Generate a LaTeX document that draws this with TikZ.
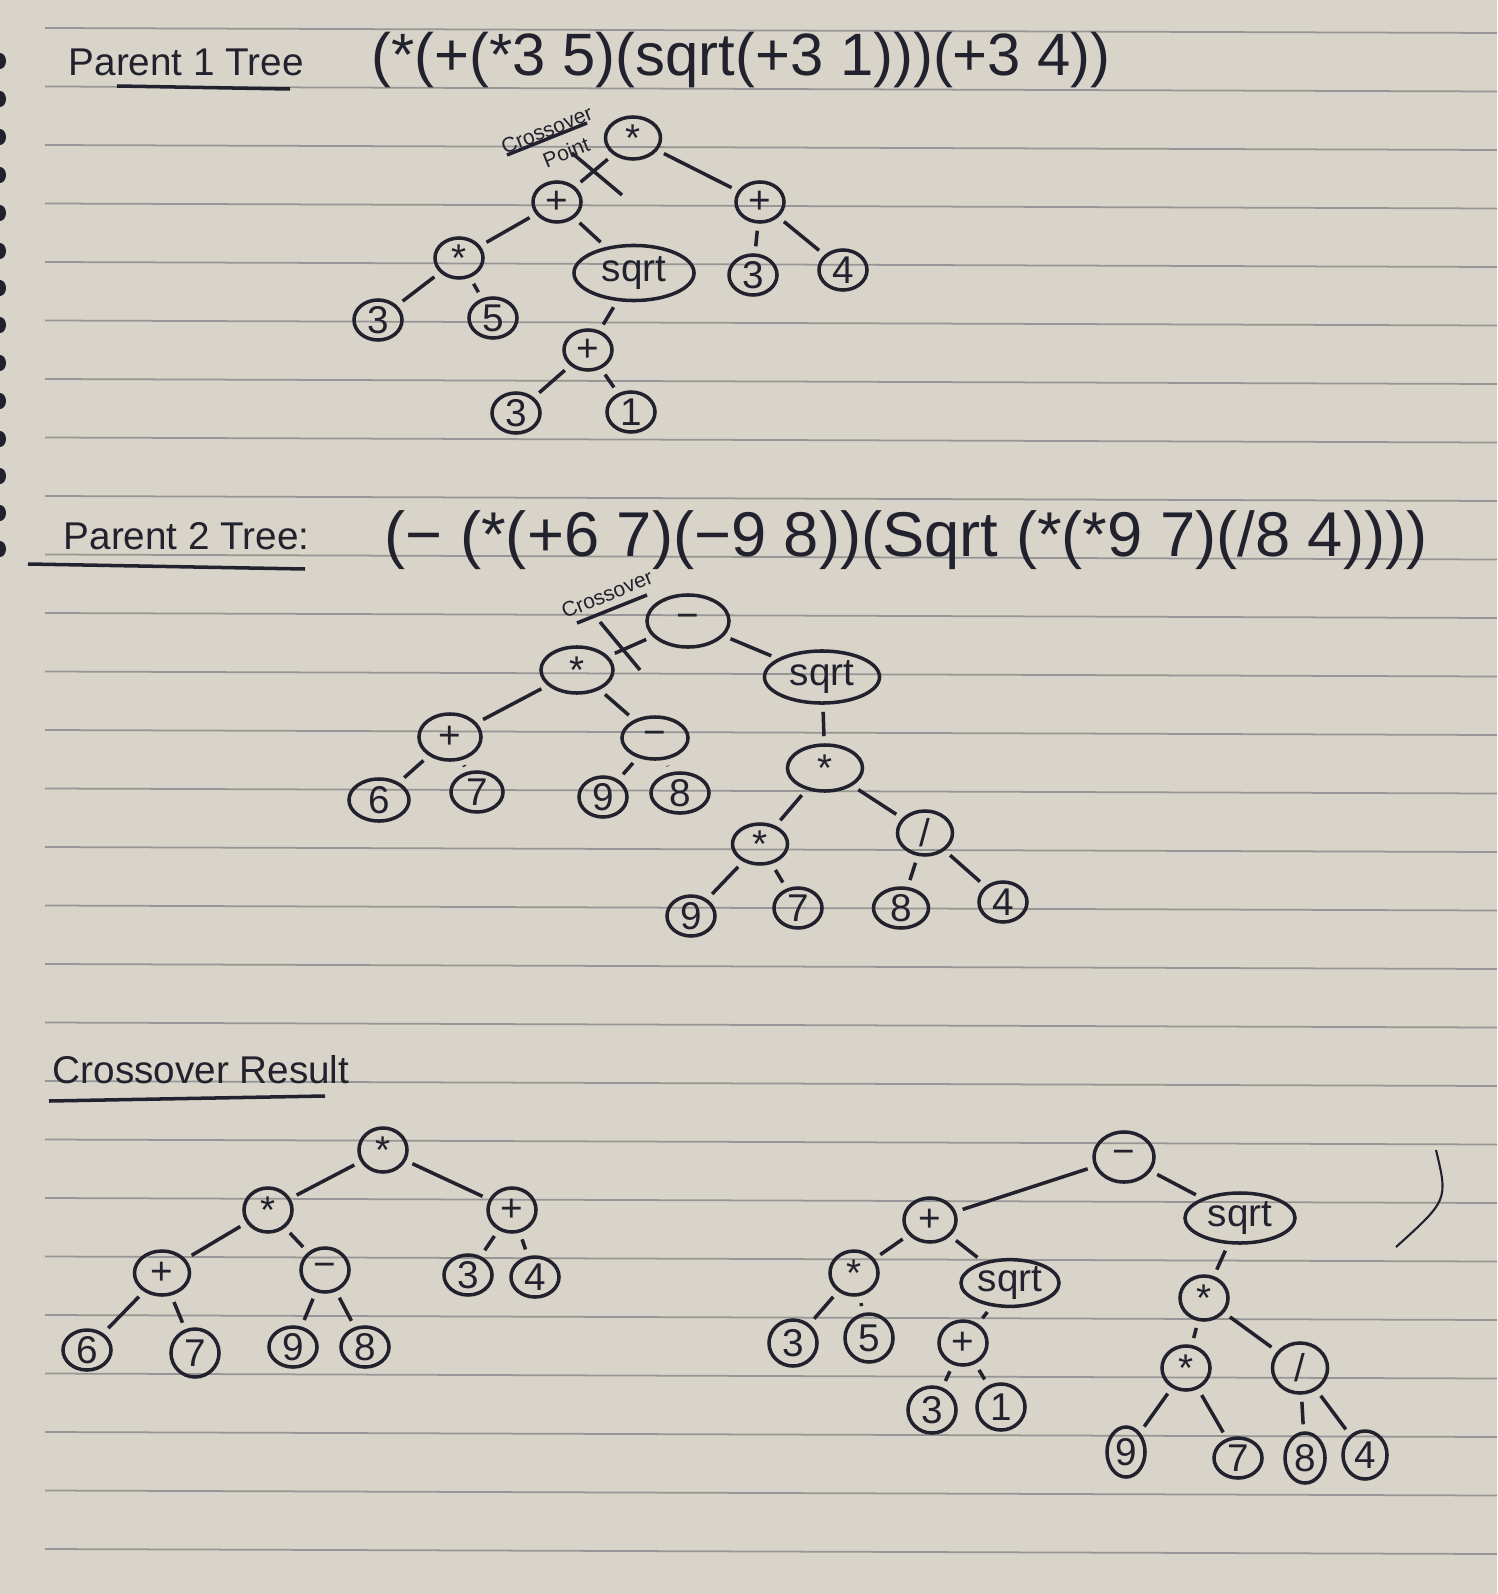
\documentclass[tikz,border=0pt]{standalone}
\usepackage{fontspec}
\setmainfont{Liberation Sans}
\usetikzlibrary{shapes.geometric}

\definecolor{tinte}{RGB}{34,34,46}
\definecolor{papier}{RGB}{216,212,201}
\definecolor{linie}{RGB}{150,150,150}

\tikzset{
    ink/.style={draw=tinte,line width=1pt},
    knot/.style={ellipse,ink,minimum width=0.48cm,minimum height=0.40cm,inner sep=0pt,text=tinte,font=\fontsize{11}{11}\selectfont},
    breit/.style={knot,minimum width=1.15cm,minimum height=0.52cm},
    kante/.style={ink,shorten <=2pt,shorten >=2pt},
    titel/.style={anchor=west,text=tinte,inner sep=0pt,font=\fontsize{11}{11}\selectfont},
    formel/.style={anchor=west,text=tinte,inner sep=0pt,font=\fontsize{17}{17}\selectfont},
    notiz/.style={text=tinte,inner sep=0pt,font=\fontsize{6}{8}\selectfont}
}

\begin{document}
\begin{tikzpicture}[x=0.01cm,y=-0.01cm]
    \fill[papier] (0,0) rectangle (1497,1594);
    \useasboundingbox (0,0) rectangle (1497,1594);

    % Heftlinien
    \foreach \i in {0,...,26}
        \draw[linie,line width=0.5pt] (45,28+58.5*\i) -- (1497,33+58.5*\i);
    \foreach \y in {61,99,137,175,213,251,288,325,363,401,439,476,513,549}
        \fill[tinte] (0,\y) ellipse (6 and 8);

    % Elter 1
    \node[titel] (t1) at (68,62) {Parent 1 Tree};
    \draw[ink] (117,86) -- (290,89);
    \node[formel] (f1) at (371,60) {(*(+(*3 5)(sqrt(+3 1)))(+3 4))};

    \node[knot,minimum width=0.55cm,minimum height=0.42cm] (a) at (633,138) {*};
    \node[knot] (al) at (557,202) {+};
    \node[knot] (ar) at (760,202) {+};
    \node[knot] (all) at (459,258) {*};
    \node[breit,minimum width=1.2cm,minimum height=0.55cm] (alr) at (634,273) {sqrt};
    \node[knot] (arl) at (753,275) {3};
    \node[knot] (arr) at (843,270) {4};
    \node[knot] (alll) at (378,320) {3};
    \node[knot] (allr) at (493,318) {5};
    \node[knot] (alrl) at (588,350) {+};
    \node[knot] (alrll) at (516,413) {3};
    \node[knot] (alrlr) at (631,412) {1};

    \draw[kante] (a) -- (al);
    \draw[kante] (a) -- (ar);
    \draw[kante] (al) -- (all);
    \draw[kante] (al) -- (alr);
    \draw[kante] (all) -- (alll);
    \draw[kante] (all) -- (allr);
    \draw[kante] (alr) -- (alrl);
    \draw[kante] (alrl) -- (alrll);
    \draw[kante] (alrl) -- (alrlr);
    \draw[kante] (ar) -- (arl);
    \draw[kante] (ar) -- (arr);

    % Schnittpunkt 1
    \node[notiz,rotate=22,align=left] (c1) at (552,143) {Crossover\\\hspace*{1.6em}Point};
    \coordinate (s1a) at (572,153);
    \coordinate (s1b) at (622,195);
    \draw[ink] (507,155) -- (587,123);
    \draw[ink] (s1a) -- (s1b);

    % Elter 2
    \node[titel] (t2) at (63,536) {Parent 2 Tree:};
    \draw[ink] (28,564) -- (305,569);
    \node[formel,font=\fontsize{18}{18}\selectfont] (f2) at (384,540) {(− (*(+6 7)(−9 8))(Sqrt (*(*9 7)(/8 4))))};

    \node[knot,minimum width=0.82cm,minimum height=0.52cm] (b) at (688,621) {−};
    \node[knot,minimum width=0.72cm,minimum height=0.46cm] (bl) at (577,670) {*};
    \node[breit] (br) at (822,677) {sqrt};
    \node[knot,minimum width=0.62cm,minimum height=0.46cm] (bll) at (450,737) {+};
    \node[knot,minimum width=0.66cm,minimum height=0.42cm] (blr) at (655,738) {−};
    \node[knot,minimum width=0.75cm,minimum height=0.46cm] (brl) at (825,768) {*};
    \node[knot,minimum width=0.6cm,minimum height=0.42cm] (blll) at (379,800) {6};
    \node[knot,minimum width=0.52cm] (bllr) at (477,792) {7};
    \node[knot] (blrl) at (603,797) {9};
    \node[knot,minimum width=0.58cm] (blrr) at (680,793) {8};
    \node[knot,minimum width=0.55cm] (brll) at (760,844) {*};
    \node[knot,minimum width=0.55cm,minimum height=0.44cm] (brlr) at (925,833) {/};
    \node[knot] (brlll) at (691,916) {9};
    \node[knot] (brllr) at (798,908) {7};
    \node[knot,minimum width=0.55cm] (brlrl) at (901,908) {8};
    \node[knot] (brlrr) at (1003,902) {4};

    \draw[kante] (b) -- (bl);
    \draw[kante] (b) -- (br);
    \draw[kante] (bl) -- (bll);
    \draw[kante] (bl) -- (blr);
    \draw[kante] (bll) -- (blll);
    \draw[kante] (bll) -- (bllr);
    \draw[kante] (blr) -- (blrl);
    \draw[kante] (blr) -- (blrr);
    \draw[kante] (br) -- (brl);
    \draw[kante] (brl) -- (brll);
    \draw[kante] (brl) -- (brlr);
    \draw[kante] (brll) -- (brlll);
    \draw[kante] (brll) -- (brllr);
    \draw[kante] (brlr) -- (brlrl);
    \draw[kante] (brlr) -- (brlrr);

    % Schnittpunkt 2
    \node[notiz,rotate=22] (c2) at (607,594) {Crossover};
    \coordinate (s2a) at (600,622);
    \coordinate (s2b) at (640,670);
    \draw[ink] (577,623) -- (647,595);
    \draw[ink] (s2a) -- (s2b);

    % Ergebnis
    \node[titel] (t3) at (52,1070) {Crossover Result};
    \draw[ink] (49,1101) -- (325,1096);

    % Kind 1
    \node[knot,minimum height=0.44cm] (c) at (383,1150) {*};
    \node[knot,minimum height=0.44cm] (cl) at (268,1210) {*};
    \node[knot,minimum height=0.44cm] (cr) at (512,1210) {+};
    \node[knot,minimum width=0.55cm,minimum height=0.44cm] (cll) at (162,1273) {+};
    \node[knot,minimum height=0.44cm] (clr) at (325,1270) {−};
    \node[knot] (crl) at (468,1275) {3};
    \node[knot] (crr) at (535,1277) {4};
    \node[knot] (clll) at (87,1350) {6};
    \node[knot,minimum height=0.48cm] (cllr) at (195,1353) {7};
    \node[knot] (clrl) at (293,1347) {9};
    \node[knot] (clrr) at (365,1347) {8};

    \draw[kante] (c) -- (cl);
    \draw[kante] (c) -- (cr);
    \draw[kante] (cl) -- (cll);
    \draw[kante] (cl) -- (clr);
    \draw[kante] (cll) -- (clll);
    \draw[kante] (cll) -- (cllr);
    \draw[kante] (clr) -- (clrl);
    \draw[kante] (clr) -- (clrr);
    \draw[kante] (cr) -- (crl);
    \draw[kante] (cr) -- (crr);

    % Kind 2
    \node[knot,minimum width=0.6cm,minimum height=0.5cm] (d) at (1124,1157) {−};
    \node[knot,minimum width=0.52cm,minimum height=0.44cm] (dl) at (930,1220) {+};
    \node[breit,minimum width=1.1cm,minimum height=0.5cm] (dr) at (1240,1218) {sqrt};
    \node[knot,minimum height=0.44cm] (dll) at (854,1273) {*};
    \node[breit,minimum width=0.98cm,minimum height=0.44cm] (dlr) at (1010,1283) {sqrt};
    \node[knot,minimum height=0.44cm] (drl) at (1204,1298) {*};
    \node[knot,minimum height=0.46cm] (dlll) at (793,1343) {3};
    \node[knot,minimum height=0.48cm] (dllr) at (869,1338) {5};
    \node[knot,minimum height=0.44cm] (dlrl) at (963,1343) {+};
    \node[knot,minimum height=0.44cm] (drll) at (1186,1368) {*};
    \node[knot,minimum width=0.55cm,minimum height=0.5cm] (drlr) at (1300,1368) {/};
    \node[knot,minimum height=0.46cm] (dlrll) at (932,1410) {3};
    \node[knot,minimum height=0.46cm] (dlrlr) at (1001,1407) {1};
    \node[knot,minimum width=0.38cm,minimum height=0.5cm] (drlll) at (1126,1452) {9};
    \node[knot] (drllr) at (1238,1458) {7};
    \node[knot,minimum width=0.4cm,minimum height=0.5cm] (drlrl) at (1305,1458) {8};
    \node[knot,minimum width=0.44cm,minimum height=0.48cm] (drlrr) at (1365,1455) {4};

    \draw[kante] (d) -- (dl);
    \draw[kante] (d) -- (dr);
    \draw[kante] (dl) -- (dll);
    \draw[kante] (dl) -- (dlr);
    \draw[kante] (dll) -- (dlll);
    \draw[kante] (dll) -- (dllr);
    \draw[kante] (dlr) -- (dlrl);
    \draw[kante] (dlrl) -- (dlrll);
    \draw[kante] (dlrl) -- (dlrlr);
    \draw[kante] (dr) -- (drl);
    \draw[kante] (drl) -- (drll);
    \draw[kante] (drl) -- (drlr);
    \draw[kante] (drll) -- (drlll);
    \draw[kante] (drll) -- (drllr);
    \draw[kante] (drlr) -- (drlrl);
    \draw[kante] (drlr) -- (drlrr);

    % Klammer rechts
    \draw[ink,line width=0.6pt] (1436,1150) .. controls (1448,1200) .. (1396,1247);
\end{tikzpicture}
\end{document}
